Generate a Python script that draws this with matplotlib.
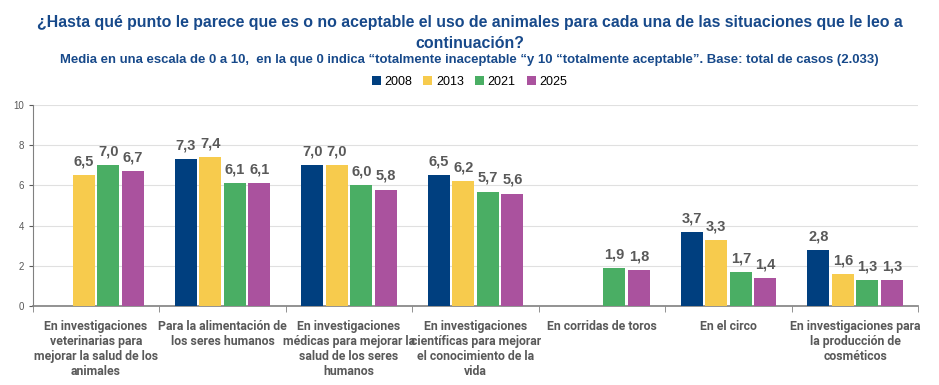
import matplotlib.pyplot as plt
import numpy as np

plt.rcParams["font.family"] = ["Liberation Sans", "DejaVu Sans"]

categories = [
    "En investigaciones\nveterinarias para\nmejorar la salud de los\nanimales",
    "Para la alimentación de\nlos seres humanos",
    "En investigaciones\nmédicas para mejorar la\nsalud de los seres\nhumanos",
    "En investigaciones\ncientíficas para mejorar\nel conocimiento de la\nvida",
    "En corridas de toros",
    "En el circo",
    "En investigaciones para\nla producción de\ncosméticos",
]
years = ["2008", "2013", "2021", "2025"]
v2008 = [None, 7.3, 7.0, 6.5, None, 3.7, 2.8]
v2013 = [6.5, 7.4, 7.0, 6.2, None, 3.3, 1.6]
v2021 = [7.0, 6.1, 6.0, 5.7, 1.9, 1.7, 1.3]
v2025 = [6.7, 6.1, 5.8, 5.6, 1.8, 1.4, 1.3]
colors = ["#003f7f", "#f7cb4d", "#4aae64", "#aa529e"]

title_col = "#17498a"
gray = "#595959"

fig = plt.figure(figsize=(9.39, 3.85), dpi=100)
ax = fig.add_axes([0.035, 0.205, 0.943, 0.522])

x = np.arange(len(categories))
w = 0.174
step = 0.194
series = [v2008, v2013, v2021, v2025]
handles = []
for i, (vals, c, yr) in enumerate(zip(series, colors, years)):
    xs = [xi + (i - 1.5) * step for xi, v in zip(x, vals) if v is not None]
    ys = [v for v in vals if v is not None]
    b = ax.bar(xs, ys, width=w, color=c, label=yr, zorder=3)
    handles.append(b)
    for xx, yy in zip(xs, ys):
        ax.text(xx, yy + 0.33, f"{yy:.1f}".replace(".", ","), ha="center", va="bottom",
                fontsize=10.5, fontweight="bold", color=gray)

ax.set_xlim(-0.5, len(categories) - 0.5)
ax.set_ylim(0, 10)
ax.set_yticks([0, 2, 4, 6, 8, 10])
ax.tick_params(axis="y", labelsize=7, colors=gray, length=3)
ax.yaxis.grid(True, color="#e0e0e0", linewidth=0.8, zorder=0)
ax.set_xticks(x)
ax.set_xticklabels(categories, fontsize=8.8, fontweight="bold", color=gray, va="top",
                   linespacing=1.2, family=["Roboto", "DejaVu Sans"])
ax.tick_params(axis="x", length=0, pad=10)
ax.set_xticks(np.arange(-0.5, len(categories), 1), minor=True)
ax.tick_params(axis="x", which="minor", length=4, color="#808080")
for s in ["top", "right"]:
    ax.spines[s].set_visible(False)
ax.spines["left"].set_color("#808080")
ax.spines["bottom"].set_color("#808080")
ax.spines["bottom"].set_linewidth(1.2)

renderer = fig.canvas.get_renderer()


def fit_size(s, size, target_px):
    t = fig.text(0.5, 0.5, s, fontsize=size, fontweight="bold")
    wpx = t.get_window_extent(renderer).width
    t.remove()
    return size * target_px / wpx


title1 = "¿Hasta qué punto le parece que es o no aceptable el uso de animales para cada una de las situaciones que le leo a"
title2 = "continuación?"
subtitle = "Media en una escala de 0 a 10,  en la que 0 indica “totalmente inaceptable “y 10 “totalmente aceptable”. Base: total de casos (2.033)"
ts = fit_size(title1, 12, 860)
ss = fit_size(subtitle, 9, 825)
fig.text(0.5, 0.942, title1, ha="center", va="center", fontsize=ts, fontweight="bold", color=title_col)
fig.text(0.5, 0.886, title2, ha="center", va="center", fontsize=ts, fontweight="bold", color=title_col)
fig.text(0.5, 0.843, subtitle, ha="center", va="center", fontsize=ss, fontweight="bold", color=title_col)

fig.legend(handles=handles, labels=years, loc="center", bbox_to_anchor=(0.5, 0.787), ncol=4,
           frameon=False, fontsize=9, handlelength=0.7, handleheight=0.7, handletextpad=0.3,
           columnspacing=0.9)

fig.savefig("out.png", dpi=100)
